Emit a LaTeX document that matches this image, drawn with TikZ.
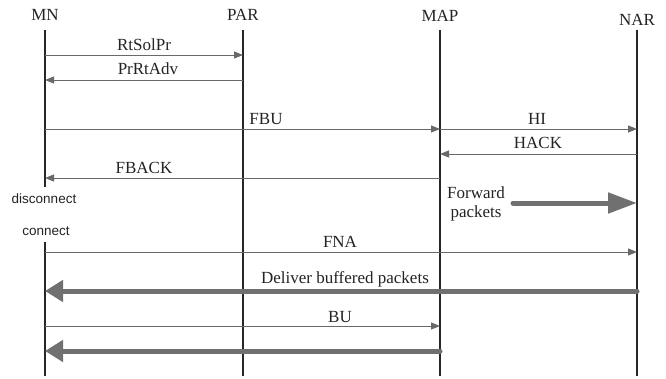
\documentclass[tikz,border=0pt]{standalone}
\usepackage{fontspec}
\setmainfont{Liberation Serif}
\setsansfont{Liberation Sans}
\usetikzlibrary{arrows.meta}
\definecolor{linegray}{RGB}{105,105,105}
\definecolor{fatgray}{RGB}{112,112,112}
\definecolor{txtgray}{RGB}{35,35,35}
\tikzset{
    lifeline/.style={draw=black!85, line width=1.1pt},
    msg/.style={draw=linegray, line width=0.9pt, -{Triangle[length=9pt,width=7pt]}},
    fatmsg/.style={draw=fatgray, line width=5pt, -{Triangle[length=18pt,width=21pt]}},
    lbl/.style={text=txtgray, anchor=base, inner sep=0pt, font=\fontsize{17}{20}\selectfont},
    note/.style={text=txtgray, anchor=base, inner sep=0pt, font=\sffamily\fontsize{13.5}{16}\selectfont}
}
\begin{document}
\begin{tikzpicture}[x=1pt,y=-1pt]
    \useasboundingbox (0,0) rectangle (666,378);
    \coordinate (mn) at (45,30);
    \coordinate (par) at (243,30);
    \coordinate (map) at (440,30);
    \coordinate (nar) at (637,30);
    \coordinate (cut1) at (0,187);
    \coordinate (cut2) at (0,242);
    \coordinate (end) at (0,376);
    \node[lbl] (mnname) at (45,20) {MN};
    \node[lbl] (parname) at (243,20) {PAR};
    \node[lbl] (mapname) at (440,21) {MAP};
    \node[lbl] (narname) at (637,25) {NAR};
    \draw[lifeline] (mn) -- (mn |- cut1);
    \draw[lifeline] (mn |- cut2) -- (mn |- end);
    \draw[lifeline] (par) -- (par |- end);
    \draw[lifeline] (map) -- (map |- end);
    \draw[lifeline] (nar) -- (nar |- end);
    \coordinate (r1) at (0,55);
    \coordinate (r2) at (0,80);
    \coordinate (r3) at (0,129);
    \coordinate (r4) at (0,154);
    \coordinate (r5) at (0,178);
    \coordinate (r6) at (0,203);
    \coordinate (r7) at (0,252);
    \coordinate (r8) at (0,291);
    \coordinate (r9) at (0,326);
    \coordinate (r10) at (0,351);
    \coordinate (fwd) at (513,203);
    \draw[msg] (mn |- r1) -- (par |- r1);
    \node[lbl] (rtsolpr) at (144,50) {RtSolPr};
    \draw[msg] (par |- r2) -- (mn |- r2);
    \node[lbl] (prrtadv) at (148,74) {PrRtAdv};
    \draw[msg] (mn |- r3) -- (map |- r3);
    \node[lbl] (fbu) at (266,124) {FBU};
    \draw[msg] (map |- r3) -- (nar |- r3);
    \node[lbl] (hi) at (537,124) {HI};
    \draw[msg] (nar |- r4) -- (map |- r4);
    \node[lbl] (hack) at (538,148) {HACK};
    \draw[msg] (map |- r5) -- (mn |- r5);
    \node[lbl] (fback) at (144,173) {FBACK};
    \node[note] (disconnect) at (44,203) {disconnect};
    \node[note] (connect) at (46,235) {connect};
    \node[lbl] (fwdtxt) at (476,198) {Forward};
    \node[lbl] (fwdtxt2) at (476,217) {packets};
    \draw[fatmsg, line cap=round, -{Triangle[length=29pt,width=20pt]}] (fwd) -- (nar |- r6);
    \draw[msg] (mn |- r7) -- (nar |- r7);
    \node[lbl] (fna) at (340,247) {FNA};
    \draw[fatmsg, line cap=round] (nar |- r8) -- (mn |- r8);
    \node[lbl] (deliver) at (345,283) {Deliver buffered packets};
    \draw[msg] (mn |- r9) -- (map |- r9);
    \node[lbl] (bu) at (340,322) {BU};
    \draw[fatmsg, line cap=round] (map |- r10) -- (mn |- r10);
\end{tikzpicture}
\end{document}
